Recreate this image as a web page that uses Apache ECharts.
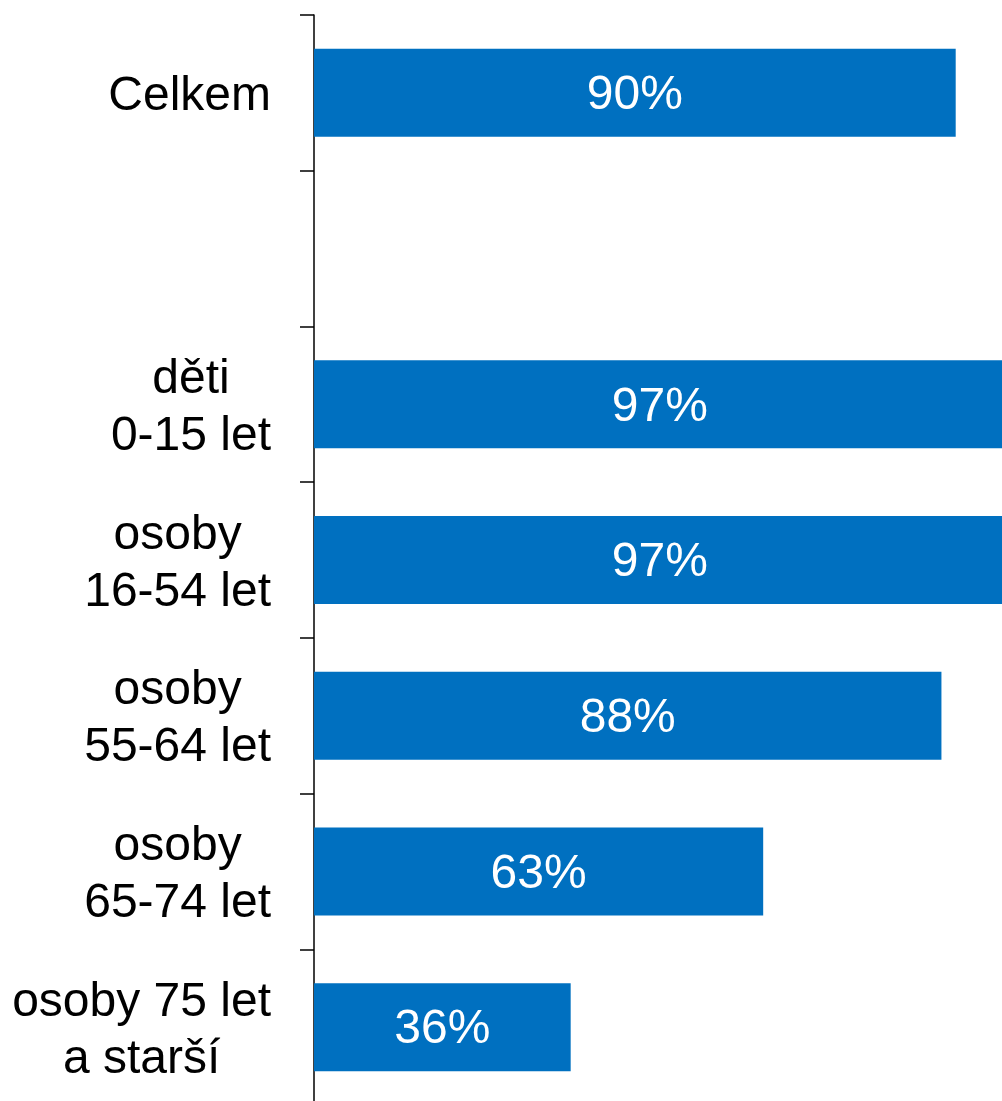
<!DOCTYPE html>
<html>
<head>
<meta charset="utf-8">
<script src="https://cdn.jsdelivr.net/npm/echarts@6/dist/echarts.min.js"></script>
<style>
html,body{margin:0;padding:0;background:#fff;}
#chart{width:1002px;height:1101px;}
</style>
</head>
<body>
<div id="chart"></div>
<script>
var categories = ['Celkem', '', 'děti\n0-15 let', 'osoby\n16-54 let', 'osoby\n55-64 let', 'osoby\n65-74 let', 'osoby 75 let\na starší'];
var values = [90, null, 97, 97, 88, 63, 36];

var chart = echarts.init(document.getElementById('chart'));
chart.setOption({
  animation: false,
  backgroundColor: '#ffffff',
  grid: { left: 314, top: 15, width: 713, height: 1090, containLabel: false, outerBoundsMode: 'none' },
  xAxis: {
    type: 'value', min: 0, max: 100, show: false,
    splitLine: { show: false }
  },
  yAxis: {
    type: 'category', inverse: true, data: categories,
    axisLine: { show: true, lineStyle: { color: '#000', width: 1.5 } },
    axisTick: { show: true, length: 14, inside: false, lineStyle: { color: '#000', width: 1.5 } },
    axisLabel: {
      margin: 43, color: '#000', fontSize: 48, lineHeight: 57,
      fontFamily: 'Liberation Sans, Arial, sans-serif', align: 'right',
      padding: [8, 0, 0, 0],
      formatter: function (v) {
        return v.split('\n').map(function (s) { return '{c|' + s + '}'; }).join('\n');
      },
      rich: {
        c: { align: 'center', fontSize: 48, lineHeight: 57, color: '#000',
             fontFamily: 'Liberation Sans, Arial, sans-serif' }
      }
    },
    splitLine: { show: false }
  },
  series: [{
    type: 'bar',
    data: values,
    barWidth: '56.5%',
    clip: false,
    itemStyle: { color: '#0070C0' },
    label: {
      show: true, position: 'inside', color: '#fff', fontSize: 48,
      offset: [0, 3],
      fontFamily: 'Liberation Sans, Arial, sans-serif',
      formatter: function (p) { return p.value + '%'; }
    }
  }]
});
</script>
</body>
</html>
